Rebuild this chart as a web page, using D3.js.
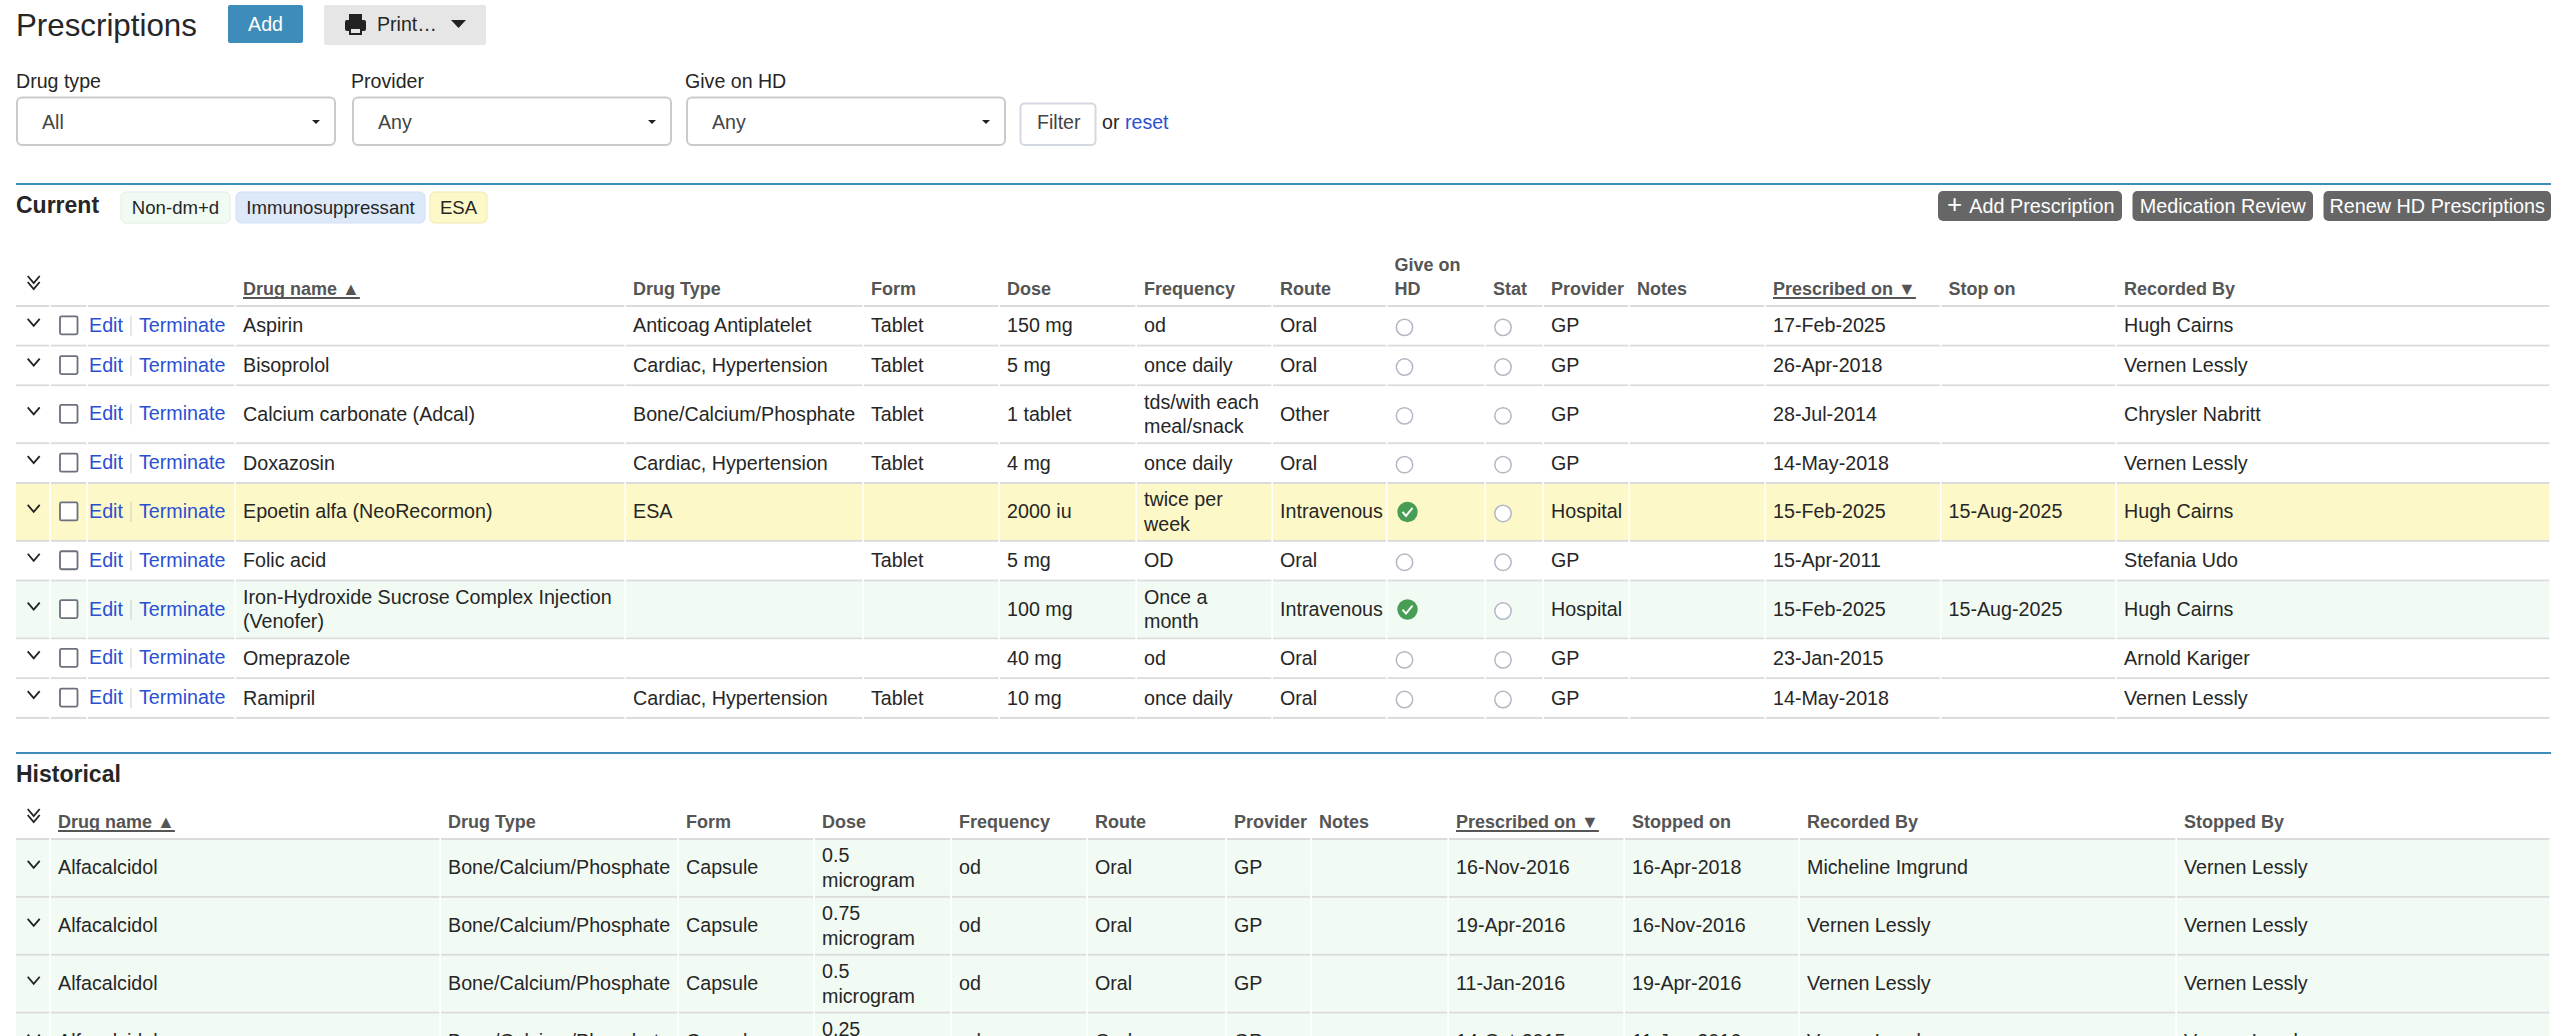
<!DOCTYPE html>
<html>
<head>
<meta charset="utf-8">
<title>Prescriptions</title>
<script src="https://cdn.jsdelivr.net/npm/d3@7"></script>
<style>
  html, body { margin: 0; padding: 0; background: #fff; overflow: hidden; }
  svg { display: block; }
  text { font-family: "Liberation Sans", Arial, sans-serif; fill: #262626; }
  .cell { font-size: 19.7px; }
  .head { font-size: 18px; font-weight: bold; fill: #555; }
  .link { fill: #2a4fd2; }
</style>
</head>
<body>
<svg id="page" width="2570" height="1036"></svg>
<script>
// --- Current prescriptions ---
const currentDrugs = ["Aspirin", "Bisoprolol", "Calcium carbonate (Adcal)", "Doxazosin", "Epoetin alfa (NeoRecormon)", "Folic acid", "Iron-Hydroxide Sucrose Complex Injection\n(Venofer)", "Omeprazole", "Ramipril"];
const currentTypes = ["Anticoag Antiplatelet", "Cardiac, Hypertension", "Bone/Calcium/Phosphate", "Cardiac, Hypertension", "ESA", "", "", "", "Cardiac, Hypertension"];
const currentForms = ["Tablet", "Tablet", "Tablet", "Tablet", "", "Tablet", "", "", "Tablet"];
const currentDoses = ["150 mg", "5 mg", "1 tablet", "4 mg", "2000 iu", "5 mg", "100 mg", "40 mg", "10 mg"];
const currentFrequencies = ["od", "once daily", "tds/with each\nmeal/snack", "once daily", "twice per\nweek", "OD", "Once a\nmonth", "od", "once daily"];
const currentRoutes = ["Oral", "Oral", "Other", "Oral", "Intravenous", "Oral", "Intravenous", "Oral", "Oral"];
const currentGiveOnHd = [false, false, false, false, true, false, true, false, false];
const currentStat = [false, false, false, false, false, false, false, false, false];
const currentProviders = ["GP", "GP", "GP", "GP", "Hospital", "GP", "Hospital", "GP", "GP"];
const currentPrescribed = ["17-Feb-2025", "26-Apr-2018", "28-Jul-2014", "14-May-2018", "15-Feb-2025", "15-Apr-2011", "15-Feb-2025", "23-Jan-2015", "14-May-2018"];
const currentStops = ["", "", "", "", "15-Aug-2025", "", "15-Aug-2025", "", ""];
const currentRecorders = ["Hugh Cairns", "Vernen Lessly", "Chrysler Nabritt", "Vernen Lessly", "Hugh Cairns", "Stefania Udo", "Hugh Cairns", "Arnold Kariger", "Vernen Lessly"];
const currentKinds = ["", "", "", "", "esa", "", "nondmd", "", ""];

// --- Historical prescriptions ---
const histDrugs = ["Alfacalcidol", "Alfacalcidol", "Alfacalcidol", "Alfacalcidol"];
const histTypes = ["Bone/Calcium/Phosphate", "Bone/Calcium/Phosphate", "Bone/Calcium/Phosphate", "Bone/Calcium/Phosphate"];
const histForms = ["Capsule", "Capsule", "Capsule", "Capsule"];
const histDoses = ["0.5\nmicrogram", "0.75\nmicrogram", "0.5\nmicrogram", "0.25\nmicrogram"];
const histFrequencies = ["od", "od", "od", "od"];
const histRoutes = ["Oral", "Oral", "Oral", "Oral"];
const histProviders = ["GP", "GP", "GP", "GP"];
const histPrescribed = ["16-Nov-2016", "19-Apr-2016", "11-Jan-2016", "14-Oct-2015"];
const histStopped = ["16-Apr-2018", "16-Nov-2016", "19-Apr-2016", "11-Jan-2016"];
const histRecorders = ["Micheline Imgrund", "Vernen Lessly", "Vernen Lessly", "Vernen Lessly"];
const histStoppers = ["Vernen Lessly", "Vernen Lessly", "Vernen Lessly", "Vernen Lessly"];
const histKinds = ["nondmd", "nondmd", "nondmd", "nondmd"];

// --- Column titles ---
const currentHeads = ["", "", "", "Drug name ▲", "Drug Type", "Form", "Dose", "Frequency", "Route", "Give on\nHD", "Stat", "Provider", "Notes", "Prescribed on ▼", "Stop on", "Recorded By"];
const histHeads = ["", "Drug name ▲", "Drug Type", "Form", "Dose", "Frequency", "Route", "Provider", "Notes", "Prescribed on ▼", "Stopped on", "Recorded By", "Stopped By"];

// --- Filters and tags ---
const filterLabels = ["Drug type", "Provider", "Give on HD"];
const filterValues = ["All", "Any", "Any"];
const tagLabels = ["Non-dm+d", "Immunosuppressant", "ESA"];
const actionLabels = ["Add Prescription", "Medication Review", "Renew HD Prescriptions"];

// Layout (not data): left edge of each table column, last one is the table end
const currentEdges = [16, 51, 88, 236, 626, 864, 1000, 1137, 1273, 1387.5, 1486, 1544, 1630, 1766, 1941.5, 2117, 2551];
const histEdges = [16, 51, 441, 679, 815, 952, 1088, 1227, 1312, 1449, 1625, 1800, 2177, 2551];
const filterLefts = [16, 352, 686];
const tagBoxes = [[121, 230], [236, 425], [430, 487]];
const actionBoxes = [[1938, 2122], [2132.5, 2313], [2323.5, 2551]];

const fills = { esa: "#fdf8c8", nondmd: "#f1fbf4", "": "#fff" };
const tagFills = ["#f1fbf4", "#dde8f9", "#fdf8c8"];
const tagStrokes = ["#dcefe2", "#d3e0f4", "#eee8b4"];
const ruleColor = "#dbdbdb";
const oneLineRow = 39.7;
const twoLineRow = 57.9;
const lineGap = 24.5;

const svg = d3.select("#page");

function chevron(g, cx, cy) {
  g.append("path")
    .attr("d", d3.line()([[cx - 6, cy - 3.5], [cx, cy + 3.5], [cx + 6, cy - 3.5]]))
    .attr("fill", "none").attr("stroke", "#222").attr("stroke-width", 1.8);
}

function multiline(sel, cls, x, cy) {
  // writes a cell that may hold several lines, vertically centred on cy
  sel.each(function (t) {
    const lines = t.split("\n");
    d3.select(this).selectAll("text").data(lines).join("text")
      .attr("class", cls)
      .attr("x", x)
      .attr("y", (d, i) => cy + (i - (lines.length - 1) / 2) * lineGap + 6.5)
      .text(d => d);
  });
}

function drawTable(edges, heads, headRule, cols, kinds) {
  const keys = d3.range(edges.length - 1);
  const left = d3.scaleOrdinal().domain(keys).range(edges);
  const right = d3.scaleOrdinal().domain(keys).range(edges.slice(1));

  const rowCount = kinds.length;
  const heights = d3.range(rowCount).map(i => {
    const two = cols.some(c => c.type === "text" && c.values[i].includes("\n"));
    return two ? twoLineRow : oneLineRow;
  });
  const tops = [0, ...d3.cumsum(heights)];
  const y = d3.scaleLinear().domain([0, tops[rowCount]]).range([headRule, headRule + tops[rowCount]]);

  // header cells
  keys.forEach(k => {
    const g = svg.append("g");
    g.append("rect").attr("x", left(k)).attr("y", headRule - 1).attr("width", right(k) - left(k) - 1.6).attr("height", 2).attr("fill", ruleColor);
    if (!heads[k]) return;
    const lines = heads[k].split("\n");
    lines.forEach((t, i) => {
      const txt = g.append("text").attr("class", "head")
        .attr("x", left(k) + 7)
        .attr("y", headRule - 11 - (lines.length - 1 - i) * 24)
        .text(t);
      if (t.includes("▲") || t.includes("▼")) {
        g.append("rect").attr("x", left(k) + 7).attr("y", headRule - 9)
          .attr("width", txt.node().getComputedTextLength()).attr("height", 2).attr("fill", "#555");
      }
    });
  });

  // double chevron that sits in the first header cell
  const dbl = svg.append("g");
  chevron(dbl, 33.7, headRule - 26.5);
  chevron(dbl, 33.7, headRule - 20.5);

  // body rows
  d3.range(rowCount).forEach(i => {
    const top = y(tops[i]), bottom = y(tops[i + 1]), cy = (top + bottom) / 2;
    const row = svg.append("g");

    row.selectAll("rect.bg").data(keys).join("rect").attr("class", "bg")
      .attr("x", k => left(k)).attr("y", top + 1)
      .attr("width", k => right(k) - left(k) - 1.6).attr("height", bottom - top - 2)
      .attr("fill", fills[kinds[i]]);
    row.selectAll("rect.rule").data(keys).join("rect").attr("class", "rule")
      .attr("x", k => left(k)).attr("y", bottom - 1)
      .attr("width", k => right(k) - left(k) - 1.6).attr("height", 2)
      .attr("fill", ruleColor);

    chevron(row, 33.7, cy - 3.5);

    cols.forEach(c => {
      const x = left(c.col) + 7;
      if (c.type === "text") {
        row.append("g").datum(c.values[i]).call(multiline, "cell", x, cy);
      } else if (c.type === "actions") {
        row.append("rect").attr("x", 60).attr("y", cy - 9.5).attr("width", 17.5).attr("height", 18)
          .attr("rx", 1.5).attr("fill", "#fff").attr("stroke", "#6c6f7c").attr("stroke-width", 1.8);
        row.append("text").attr("class", "cell link").attr("x", 89).attr("y", cy + 6).text("Edit");
        row.append("line").attr("x1", 131).attr("x2", 131).attr("y1", cy - 10).attr("y2", cy + 10).attr("stroke", "#ccc");
        row.append("text").attr("class", "cell link").attr("x", 139).attr("y", cy + 6).text("Terminate");
      } else if (c.type === "flag") {
        if (c.values[i]) {
          const cx = x + 13;
          row.append("circle").attr("cx", cx).attr("cy", cy).attr("r", 10.2).attr("fill", "#489d55");
          row.append("path").attr("d", d3.line()([[cx - 5, cy], [cx - 1.5, cy + 4], [cx + 5, cy - 4]]))
            .attr("fill", "none").attr("stroke", "#fff").attr("stroke-width", 2);
        } else {
          row.append("circle").attr("cx", x + 10).attr("cy", cy + 1.5).attr("r", 8.2)
            .attr("fill", "#fff").attr("stroke", "#b4b7c4").attr("stroke-width", 1.5);
        }
      }
    });
  });
}

// --- Top bar ---
svg.append("text").attr("x", 16).attr("y", 36).attr("font-size", 31.3).text("Prescriptions");

svg.append("rect").attr("x", 228).attr("y", 5).attr("width", 75).attr("height", 38).attr("rx", 2).attr("fill", "#3e8cb9");
svg.append("text").attr("x", 265.5).attr("y", 30.5).attr("text-anchor", "middle").attr("font-size", 19.6).style("fill", "#fff").text("Add");

svg.append("rect").attr("x", 324).attr("y", 5).attr("width", 162).attr("height", 40).attr("rx", 2).attr("fill", "#e6e6e6");
const printer = svg.append("g").attr("fill", "#222");
printer.append("rect").attr("x", 349).attr("y", 14).attr("width", 13).attr("height", 7);
printer.append("rect").attr("x", 345).attr("y", 20).attr("width", 21).attr("height", 11).attr("rx", 2);
printer.append("rect").attr("x", 349).attr("y", 28).attr("width", 13).attr("height", 7);
printer.append("rect").attr("x", 351).attr("y", 29).attr("width", 9).attr("height", 4).attr("fill", "#e6e6e6");
svg.append("text").attr("x", 377).attr("y", 31).attr("font-size", 19.6).text("Print…");
svg.append("path").attr("d", d3.line()([[451, 20], [466, 20], [458.5, 28]])).attr("fill", "#222");

// --- Filters ---
filterLabels.forEach((label, i) => {
  const x = filterLefts[i];
  svg.append("text").attr("x", i === 0 ? x : x - 1).attr("y", 88).attr("font-size", 19.6).text(label);
  svg.append("rect").attr("x", x + 1).attr("y", 97.5).attr("width", 318).attr("height", 47.5).attr("rx", 5)
    .attr("fill", "#fff").attr("stroke", "#cacaca").attr("stroke-width", 2);
  svg.append("text").attr("x", x + 26).attr("y", 128.5).attr("font-size", 19.6).style("fill", "#444").text(filterValues[i]);
  svg.append("path").attr("d", d3.line()([[x + 296, 120], [x + 304, 120], [x + 300, 124]])).attr("fill", "#222");
});
svg.append("rect").attr("x", 1020.5).attr("y", 103.5).attr("width", 75).attr("height", 41.5).attr("rx", 4)
  .attr("fill", "#fff").attr("stroke", "#d4d8e0").attr("stroke-width", 2);
svg.append("text").attr("x", 1037).attr("y", 129).attr("font-size", 19.6).style("fill", "#444").text("Filter");
svg.append("text").attr("x", 1102).attr("y", 129).attr("font-size", 19.6).text("or");
svg.append("text").attr("class", "link").attr("x", 1125).attr("y", 129).attr("font-size", 19.6).text("reset");

// --- Current section ---
svg.append("rect").attr("x", 16).attr("y", 183).attr("width", 2535).attr("height", 2).attr("fill", "#3e8cb9");
svg.append("text").attr("x", 16).attr("y", 213).attr("font-size", 23).attr("font-weight", "bold").text("Current");

tagLabels.forEach((label, i) => {
  const [a, b] = tagBoxes[i];
  svg.append("rect").attr("x", a).attr("y", 192).attr("width", b - a).attr("height", 31).attr("rx", 5)
    .attr("fill", tagFills[i]).attr("stroke", tagStrokes[i]);
  svg.append("text").attr("x", (a + b) / 2).attr("y", 214).attr("text-anchor", "middle").attr("font-size", 18.6).text(label);
});

actionLabels.forEach((label, i) => {
  const [a, b] = actionBoxes[i];
  svg.append("rect").attr("x", a).attr("y", 191).attr("width", b - a).attr("height", 30).attr("rx", 5).attr("fill", "#666");
  const txt = svg.append("text").attr("y", 212.5).attr("font-size", 19.8).style("fill", "#fff");
  if (i === 0) {
    // the first button carries a larger plus sign in front of its label
    txt.attr("x", b - 7.5).attr("text-anchor", "end");
    txt.append("tspan").attr("font-size", 26).style("fill", "#fff").text("+ ");
    txt.append("tspan").style("fill", "#fff").text(label);
  } else {
    txt.attr("x", (a + b) / 2).attr("text-anchor", "middle").text(label);
  }
});

drawTable(currentEdges, currentHeads, 306, [
  { col: 2, type: "actions" },
  { col: 3, type: "text", values: currentDrugs },
  { col: 4, type: "text", values: currentTypes },
  { col: 5, type: "text", values: currentForms },
  { col: 6, type: "text", values: currentDoses },
  { col: 7, type: "text", values: currentFrequencies },
  { col: 8, type: "text", values: currentRoutes },
  { col: 9, type: "flag", values: currentGiveOnHd },
  { col: 10, type: "flag", values: currentStat },
  { col: 11, type: "text", values: currentProviders },
  { col: 13, type: "text", values: currentPrescribed },
  { col: 14, type: "text", values: currentStops },
  { col: 15, type: "text", values: currentRecorders }
], currentKinds);

// --- Historical section ---
svg.append("rect").attr("x", 16).attr("y", 752).attr("width", 2535).attr("height", 2).attr("fill", "#3e8cb9");
svg.append("text").attr("x", 16).attr("y", 782).attr("font-size", 23).attr("font-weight", "bold").text("Historical");

drawTable(histEdges, histHeads, 839, [
  { col: 1, type: "text", values: histDrugs },
  { col: 2, type: "text", values: histTypes },
  { col: 3, type: "text", values: histForms },
  { col: 4, type: "text", values: histDoses },
  { col: 5, type: "text", values: histFrequencies },
  { col: 6, type: "text", values: histRoutes },
  { col: 7, type: "text", values: histProviders },
  { col: 9, type: "text", values: histPrescribed },
  { col: 10, type: "text", values: histStopped },
  { col: 11, type: "text", values: histRecorders },
  { col: 12, type: "text", values: histStoppers }
], histKinds);
</script>
</body>
</html>
